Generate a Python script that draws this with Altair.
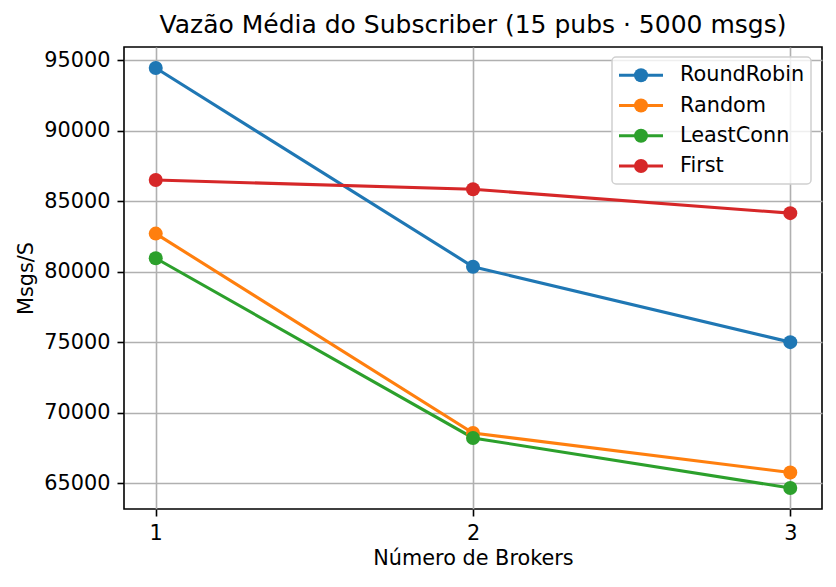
import altair as alt
import pandas as pd

brokers = [1, 2, 3]
series_names = ["RoundRobin", "Random", "LeastConn", "First"]
round_robin = [94450, 80350, 75000]
random_lb = [82700, 68550, 65750]
least_conn = [80950, 68200, 64650]
first = [86500, 85850, 84150]
colors = ["#1f77b4", "#ff7f0e", "#2ca02c", "#d62728"]
y_ticks = [65000, 70000, 75000, 80000, 85000, 90000, 95000]
title_text = "Vazão Média do Subscriber (15 pubs · 5000 msgs)"

rows = []
for name, vals in zip(series_names, [round_robin, random_lb, least_conn, first]):
    for b, v in zip(brokers, vals):
        rows.append({"Brokers": b, "Msgs": v, "Series": name})
df = pd.DataFrame(rows)

lo, hi = df.Msgs.min(), df.Msgs.max()
pad = 0.05 * (hi - lo)
ydom = [float(lo - pad), float(hi + pad)]
xpad = 0.05 * (max(brokers) - min(brokers))
xdom = [min(brokers) - xpad, max(brokers) + xpad]

FS = 20.8

color = alt.Color("Series:N", scale=alt.Scale(domain=series_names, range=colors), legend=None)
x = alt.X("Brokers:Q", scale=alt.Scale(domain=xdom, nice=False, zero=False),
          axis=alt.Axis(values=brokers, title="Número de Brokers", format="d", titlePadding=6))
y = alt.Y("Msgs:Q", scale=alt.Scale(domain=ydom, nice=False, zero=False),
          axis=alt.Axis(values=y_ticks, title="Msgs/S", format="d", titlePadding=7))

base = alt.Chart(df)
lines = base.mark_line(strokeWidth=3.1).encode(x=x, y=y, color=color, detail="Series:N")
points = base.mark_circle(size=196, opacity=1).encode(x=x, y=y, color=color)
main = alt.layer(lines, points)

leg_df = pd.DataFrame({"Series": series_names})
ly = alt.Y("Series:N", scale=alt.Scale(type="point", domain=series_names, range=[28.3, 119], padding=0), axis=None)
box = alt.Chart(pd.DataFrame({"k": [0]})).mark_rect(
    fill="white", fillOpacity=0.8, stroke="#d0d0d0", strokeWidth=1.5, cornerRadius=4
).encode(x=alt.value(488), x2=alt.value(687), y=alt.value(10), y2=alt.value(137))
leg_rule = alt.Chart(leg_df).mark_rule(strokeWidth=3.1).encode(
    x=alt.value(495), x2=alt.value(539), y=ly, color=color)
leg_pt = alt.Chart(leg_df).mark_circle(size=196, opacity=1).encode(
    x=alt.value(517), y=ly, color=color)
leg_txt = alt.Chart(leg_df).mark_text(align="left", baseline="middle", fontSize=FS, color="black",
                                      font="DejaVu Sans").encode(
    x=alt.value(556), y=ly, text="Series:N")
legend = alt.layer(box, leg_rule, leg_pt, leg_txt)

chart = alt.layer(main, legend).resolve_scale(x="independent", y="independent").properties(
    width=698, height=462,
    autosize=alt.AutoSizeParams(type="none"),
    padding={"left": 116, "top": 39, "right": 6, "bottom": 70},
    title=alt.TitleParams(title_text, fontSize=25, fontWeight="normal", font="DejaVu Sans",
                          anchor="middle", frame="group", offset=9, baseline="bottom",
                          dy=25, color="black"),
).configure_axis(
    labelFontSize=FS, titleFontSize=FS, titleFontWeight="normal",
    labelFont="DejaVu Sans", titleFont="DejaVu Sans",
    labelColor="black", titleColor="black",
    tickColor="black", tickWidth=1.6, tickSize=7, labelPadding=7,
    gridColor="#b0b0b0", gridWidth=1.6, domain=False,
).configure_view(stroke="black", strokeWidth=1.6)

chart.save("out.html", embed_options={"renderer": "svg", "actions": False})
